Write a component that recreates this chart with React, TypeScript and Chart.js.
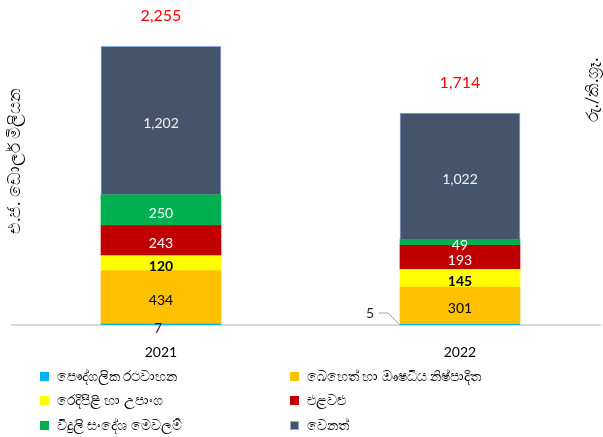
import React, { useEffect, useRef } from "react";
import { Chart, registerables } from "chart.js";
Chart.register(...registerables);

const categories = ["2021", "2022"];
const seriesNames = [
  "පෞද්ගලික රථවාහන",
  "බෙහෙත් හා ඖෂධීය නිෂ්පාදිත",
  "රෙදිපිළි හා උපාංග",
  "එළවළු",
  "විදුලි සංදේශ මෙවලම්",
  "වෙනත්",
];
const seriesColors = ["#00b0f0", "#ffc000", "#ffff00", "#c00000", "#00b050", "#44546a"];
const labelColors = ["#000000", "#000000", "#000000", "#ffffff", "#ffffff", "#f2f2f2"];
const labelBold = [false, false, true, false, false, false];
const vehicles = [7, 5];
const medicine = [434, 301];
const textiles = [120, 145];
const vegetables = [243, 193];
const telecom = [250, 49];
const other = [1202, 1022];
const totals = [2255, 1714];
const leftTitle = "එ.ජ. ඩොලර් මිලියන";
const rightTitle = "රු./කි.ග්‍රෑ.";

const seriesValues = [vehicles, medicine, textiles, vegetables, telecom, other];
const FONT = "Lato, 'Noto Sans', sans-serif";

const fmt = (v: number) => v.toLocaleString("en-US");

const labelPlugin = {
  id: "segLabels",
  afterDatasetsDraw(chart: any) {
    const ctx = chart.ctx;
    ctx.save();
    chart.data.datasets.forEach((ds: any, di: number) => {
      const meta = chart.getDatasetMeta(di);
      meta.data.forEach((bar: any, i: number) => {
        const v = ds.data[i].y;
        const top = Math.min(bar.y, bar.base);
        const bottom = Math.max(bar.y, bar.base);
        const cy = (top + bottom) / 2 + 3;
        ctx.textAlign = "center";
        ctx.textBaseline = "middle";
        ctx.fillStyle = labelColors[di];
        ctx.font = `${labelBold[di] ? "bold " : ""}14px ${FONT}`;
        if (di === 0) {
          ctx.fillStyle = "#262626";
          ctx.font = `14px ${FONT}`;
          if (i === 0) {
            ctx.fillText(fmt(v), bar.x - 3, bottom + 3);
          } else {
            const left = bar.x - bar.width / 2;
            ctx.fillText(fmt(v), left - 30, bottom - 12);
            ctx.strokeStyle = "#a6a6a6";
            ctx.lineWidth = 1;
            ctx.beginPath();
            ctx.moveTo(left - 21, bottom - 12);
            ctx.lineTo(left - 12, bottom - 12);
            ctx.lineTo(left, bottom);
            ctx.stroke();
          }
        } else {
          ctx.fillText(fmt(v), bar.x, cy);
        }
      });
    });
    const lastMeta = chart.getDatasetMeta(chart.data.datasets.length - 1);
    lastMeta.data.forEach((bar: any, i: number) => {
      ctx.fillStyle = "#ff0000";
      ctx.font = `16px ${FONT}`;
      ctx.textAlign = "center";
      ctx.textBaseline = "middle";
      ctx.fillText(fmt(totals[i]), bar.x, bar.y - 30);
    });
    ctx.fillStyle = "#000000";
    ctx.font = `17px ${FONT}`;
    ctx.save();
    ctx.translate(15, 161);
    ctx.rotate(-Math.PI / 2);
    ctx.fillText(leftTitle, 0, 0);
    ctx.restore();
    ctx.save();
    ctx.translate(593, 90);
    ctx.rotate(-Math.PI / 2);
    ctx.fillText(rightTitle, 0, 0);
    ctx.restore();
    ctx.restore();
  },
};

export default function App() {
  const ref = useRef<HTMLCanvasElement>(null);
  useEffect(() => {
    document.body.style.margin = "0";
    const chart = new Chart(ref.current!, {
      type: "bar",
      data: {
        datasets: seriesValues.map((vals, di) => ({
          label: seriesNames[di],
          data: vals.map((v, i) => ({ x: i, y: v })),
          backgroundColor: seriesColors[di],
          borderColor: di === 5 ? "#8faadc" : seriesColors[di],
          borderWidth: di === 5 ? 1 : 0,
          barThickness: 120,
        })),
      },
      options: {
        animation: false,
        responsive: false,
        maintainAspectRatio: false,
        layout: { padding: { top: 0, left: 12, right: 3, bottom: 67 } },
        plugins: { legend: { display: false }, tooltip: { enabled: false } },
        scales: {
          x: {
            type: "linear",
            stacked: true,
            offset: false,
            min: -0.4983,
            max: 1.4683,
            afterBuildTicks: (s: any) => {
              s.ticks = categories.map((_, i) => ({ value: i }));
            },
            afterFit: (s: any) => {
              s.height = 45;
            },
            ticks: {
              callback: (v: any) => categories[v] ?? "",
              color: "#000000",
              font: { family: FONT, size: 14 },
              padding: 11,
            },
            grid: { display: false, offset: false },
            border: { color: "#d9d9d9", width: 2 },
          },
          y: {
            stacked: true,
            display: false,
            min: 0,
            max: 2630,
          },
        },
      },
      plugins: [labelPlugin],
    } as any);
    return () => chart.destroy();
  }, []);

  const legendRows = [
    [0, 1],
    [2, 3],
    [4, 5],
  ];
  return (
    <div style={{ position: "relative", width: 603, height: 437, overflow: "hidden", fontFamily: FONT }}>
      <canvas ref={ref} width={603} height={437} style={{ display: "block", width: 603, height: 437 }} />
      {legendRows.map((row, ri) =>
        row.map((si, ci) => (
          <div
            key={`${ri}-${ci}`}
            style={{
              position: "absolute",
              left: ci === 0 ? 40 : 290,
              top: 376 + ri * 24.5 - 10,
              height: 20,
              display: "flex",
              alignItems: "center",
              fontSize: 13.6,
              color: "#000",
              whiteSpace: "nowrap",
            }}
          >
            <span
              style={{
                display: "inline-block",
                width: 9,
                height: 9,
                background: seriesColors[si],
                border: si === 5 ? "1px solid #8faadc" : "none",
                boxSizing: "border-box",
                marginRight: 8,
              }}
            />
            <span>{seriesNames[si]}</span>
          </div>
        ))
      )}
    </div>
  );
}
